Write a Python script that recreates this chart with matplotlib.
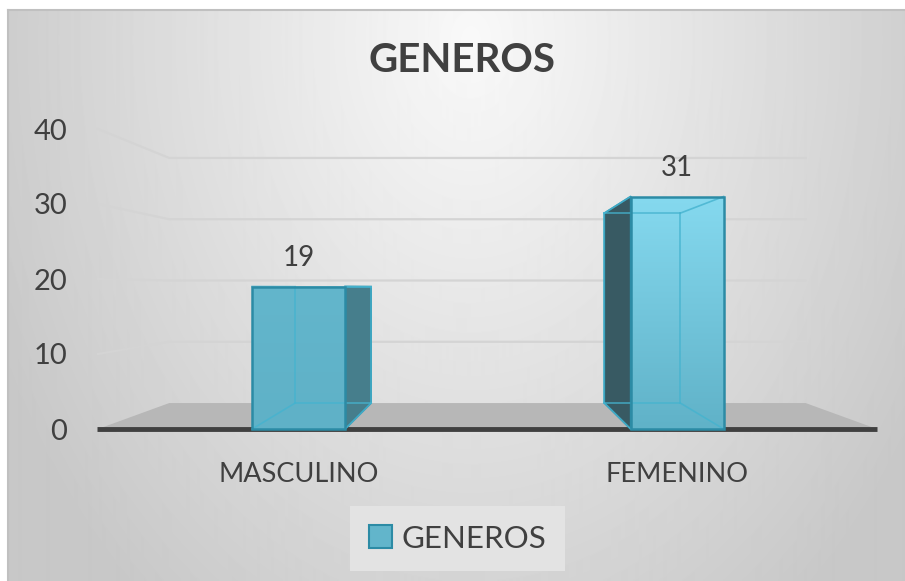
import matplotlib
matplotlib.use("Agg")
import matplotlib.pyplot as plt
import numpy as np
from matplotlib.patches import Polygon, Patch
from matplotlib.colors import LinearSegmentedColormap

# data
categories = ["MASCULINO", "FEMENINO"]
values = [19, 31]
series_name = "GENEROS"
title = "GENEROS"
yticks = [0, 10, 20, 30, 40]

plt.rcParams["font.family"] = ["Lato", "DejaVu Sans"]
TEXT = "#404040"

W, H = 905, 581
fig = plt.figure(figsize=(W / 100, H / 100), dpi=100)

# chart area background: soft radial gray gradient
bg = fig.add_axes([8 / W, 0, 1 - 8 / W, 1 - 10 / H], zorder=0)
gy, gx = np.mgrid[0:H - 10, 0:W - 8]
d = np.sqrt(((gx + 8 - 470) / 520.0) ** 2 + ((gy + 10 - 40) / 720.0) ** 2)
shade = 249 - 49 * np.clip(d, 0, 1)
bg.imshow(shade, cmap="gray", vmin=0, vmax=255, aspect="auto",
          extent=(0, 1, 0, 1), interpolation="bilinear")
bg.set_xlim(0, 1)
bg.set_ylim(0, 1)
bg.set_xticks([])
bg.set_yticks([])
for side in ["right", "bottom"]:
    bg.spines[side].set_visible(False)
for side in ["top", "left"]:
    bg.spines[side].set_color("#c0c0c0")
    bg.spines[side].set_linewidth(1.5)

# front plane of the 3d box
ax = fig.add_axes([98 / W, (H - 429) / H, 779 / W, 300 / H], zorder=1)
ax.patch.set_visible(False)
xmin, xmax = -0.53, 1.528
ax.set_xlim(xmin, xmax)
ax.set_ylim(0, 40)

# simple perspective toward a vanishing point
vx, vy, k = 0.498, 18.9, 0.817


def back(x, y):
    return vx + k * (x - vx), vy + k * (y - vy)


# walls and gridlines
for v in yticks[1:]:
    bx0, by = back(xmin, v)
    bx1, _ = back(xmax, v)
    ax.plot([xmin, bx0, bx1], [v, by, by], color="#d4d4d4", lw=1.6,
            clip_on=False, zorder=1)

floor = [(xmin, 0), back(xmin, 0), back(xmax, 0), (xmax, 0)]
ax.add_patch(Polygon(floor, closed=True, fc="#b7b7b7", ec="none",
                     zorder=2, clip_on=False))
ax.plot([xmin - 0.003, xmax], [0, 0], color="#404040", lw=3.5,
        solid_capstyle="butt", clip_on=False, zorder=3)

# bars
bw = 0.2457
side_colors = ["#467e8c", "#385a63"]
top_colors = ["#63b6cc", "#85d9ef"]
bottom_colors = ["#5fb1c7", "#60b2c8"]
edge = "#2c8ba5"
for i, v in enumerate(values):
    x0, x1 = i - bw / 2, i + bw / 2
    front = [(x0, 0), (x1, 0), (x1, v), (x0, v)]
    bk = [back(*p) for p in front]

    if i < vx:
        side = [front[1], bk[1], bk[2], front[2]]
    else:
        side = [front[0], bk[0], bk[3], front[3]]
    ax.add_patch(Polygon(side, closed=True, fc=side_colors[i], ec=edge,
                         lw=1.2, zorder=4, clip_on=False))

    cmap = LinearSegmentedColormap.from_list(
        "bar%d" % i, [bottom_colors[i], top_colors[i]])
    grad = np.linspace(1, 0, 100).reshape(-1, 1)
    im = ax.imshow(grad, cmap=cmap, vmin=0, vmax=1, aspect="auto",
                   extent=(x0, x1, 0, v), zorder=5)
    face = Polygon(front, closed=True, fc="none", ec="none",
                   transform=ax.transData)
    ax.add_patch(face)
    im.set_clip_path(face)

    # inner edges seen through the glass
    for a, b in [(0, 1), (1, 2), (2, 3), (3, 0)]:
        ax.plot([bk[a][0], bk[b][0]], [bk[a][1], bk[b][1]],
                color="#45b3cf", lw=1.2, alpha=0.8, zorder=6, clip_on=False)
    for a in range(4):
        ax.plot([front[a][0], bk[a][0]], [front[a][1], bk[a][1]],
                color="#45b3cf", lw=1.2, alpha=0.8, zorder=6, clip_on=False)

    ax.add_patch(Polygon(front, closed=True, fc="none", ec=edge, lw=1.8,
                         zorder=7, clip_on=False))
    ax.text(i, v + 3.8, str(v), ha="center", va="center", fontsize=20,
            color=TEXT, zorder=8)

ax.set_xlim(xmin, xmax)
ax.set_ylim(0, 40)
ax.set_yticks(yticks)
ax.set_xticks(range(len(categories)))
ax.set_xticklabels(categories)
ax.tick_params(axis="y", length=0, pad=22, labelsize=21, labelcolor=TEXT)
ax.tick_params(axis="x", length=0, pad=24, labelsize=19.5, labelcolor=TEXT)
for s in ax.spines.values():
    s.set_visible(False)

fig.text(461.5 / W, 1 - 72 / H, title, ha="center", va="baseline",
         fontsize=29, fontweight="bold", color=TEXT)

handle = Patch(facecolor="#62b5cb", edgecolor=edge, linewidth=1.5)
leg = fig.legend([handle], [series_name], loc="center",
                 bbox_to_anchor=(457.5 / W, 1 - 538.5 / H),
                 fontsize=22.5, frameon=True, fancybox=False,
                 handlelength=0.72, handleheight=0.72, handletextpad=0.3,
                 borderpad=0.6, borderaxespad=0)
leg.get_frame().set_facecolor("#e3e3e3")
leg.get_frame().set_edgecolor("none")
leg.get_frame().set_alpha(1)
for t in leg.get_texts():
    t.set_color(TEXT)

fig.savefig("out.png", dpi=100)
